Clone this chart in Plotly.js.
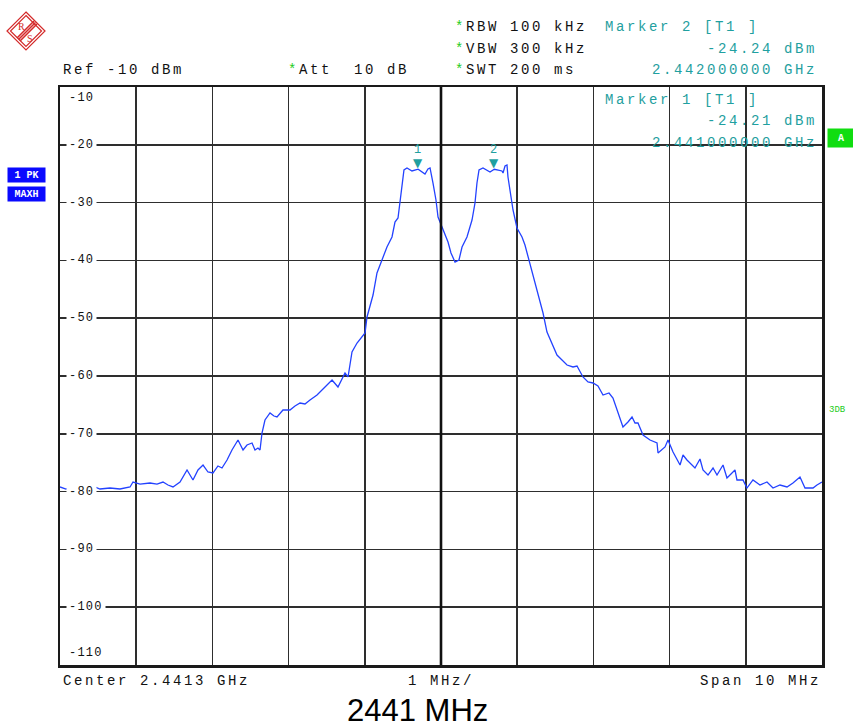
<!DOCTYPE html>
<html>
<head>
<meta charset="utf-8">
<script src="https://cdn.plot.ly/plotly-3.0.1.min.js"></script>
<style>
html,body{margin:0;padding:0;background:#fff;}
#chart{width:853px;height:727px;}
text.annotation-text[style*="font-size: 14px"]{letter-spacing:2.6px;}
text.annotation-text[style*="font-size: 12px"]{letter-spacing:1.2px;}
</style>
</head>
<body>
<div id="chart"></div>
<script>
// ---- data ----
const CENTER_MHZ = 2441.3;
const SPAN_MHZ = 10;
const REF_LEVEL = -10;
const FREQ = [
2436.300,2436.379,2436.471,2436.562,2436.694,2436.825,2436.956,2437.087,2437.219,2437.258,
2437.350,2437.481,2437.573,2437.652,2437.717,2437.783,2437.875,2437.967,2438.045,2438.111,
2438.177,2438.242,2438.308,2438.373,2438.426,2438.492,2438.557,2438.597,2438.636,2438.702,
2438.754,2438.820,2438.859,2438.898,2438.925,2438.951,2438.990,2439.056,2439.108,2439.148,
2439.226,2439.318,2439.384,2439.450,2439.515,2439.581,2439.673,2439.778,2439.870,2439.948,
2440.040,2440.080,2440.132,2440.198,2440.303,2440.329,2440.368,2440.408,2440.460,2440.526,
2440.591,2440.657,2440.696,2440.736,2440.762,2440.788,2440.814,2440.854,2440.919,2441.000,
2441.090,2441.129,2441.156,2441.195,2441.234,2441.261,2441.313,2441.366,2441.392,2441.431,
2441.484,2441.536,2441.576,2441.641,2441.707,2441.746,2441.772,2441.799,2441.851,2441.943,
2442.000,2442.100,2442.114,2442.140,2442.166,2442.179,2442.206,2442.245,2442.297,2442.363,
2442.402,2442.455,2442.507,2442.573,2442.639,2442.691,2442.757,2442.822,2442.888,2442.954,
2443.032,2443.085,2443.163,2443.229,2443.295,2443.360,2443.426,2443.505,2443.557,2443.623,
2443.688,2443.754,2443.807,2443.846,2443.885,2443.951,2444.043,2444.135,2444.148,2444.240,
2444.279,2444.345,2444.437,2444.476,2444.528,2444.633,2444.699,2444.738,2444.804,2444.870,
2444.922,2445.001,2445.053,2445.158,2445.184,2445.263,2445.315,2445.394,2445.486,2445.578,
2445.657,2445.749,2445.841,2445.919,2446.011,2446.077,2446.182,2446.234,2446.300
];
const LEVEL = [
-79.20,-79.55,-79.38,-79.03,-78.86,-79.55,-79.38,-79.55,-79.20,-78.34,
-78.69,-78.51,-78.69,-78.34,-78.86,-79.20,-78.34,-76.26,-77.99,-76.26,
-75.40,-76.61,-76.78,-75.57,-75.92,-74.53,-72.80,-71.94,-71.07,-72.80,
-71.94,-71.59,-72.80,-72.46,-72.80,-69.86,-67.61,-66.40,-66.92,-67.09,
-65.88,-65.88,-65.19,-64.67,-64.84,-64.15,-63.29,-61.90,-60.69,-61.90,
-59.48,-60.17,-55.85,-54.29,-52.56,-49.79,-47.72,-45.99,-42.18,-39.93,
-37.68,-35.95,-33.36,-32.66,-30.07,-27.30,-24.36,-24.01,-24.53,-24.21,
-25.05,-24.19,-24.01,-26.61,-29.55,-32.49,-34.22,-35.95,-36.82,-38.72,
-40.28,-39.93,-37.68,-35.95,-33.01,-30.07,-26.61,-24.36,-24.01,-24.71,
-24.24,-24.53,-24.88,-23.67,-23.50,-25.57,-27.82,-31.28,-34.39,-35.95,
-37.34,-39.93,-42.18,-45.64,-49.10,-52.39,-54.29,-56.37,-57.23,-58.10,
-58.44,-58.27,-60.17,-61.04,-61.21,-61.73,-63.29,-62.94,-63.81,-66.40,
-68.82,-67.96,-67.09,-68.13,-68.13,-70.21,-71.07,-71.59,-73.32,-72.28,
-71.07,-73.15,-75.40,-73.67,-74.53,-75.92,-74.36,-76.26,-77.13,-75.92,
-77.13,-75.40,-77.65,-76.26,-77.99,-77.99,-79.38,-77.99,-78.86,-78.34,
-79.38,-78.86,-79.20,-78.51,-77.47,-79.38,-79.38,-78.86,-78.34
];
const MARKER_LABEL = ['1','2'];
const MARKER_FREQ = [2441.0, 2442.0];
const MARKER_LEVEL = [-24.21, -24.24];
const YTICKS = [-10,-20,-30,-40,-50,-60,-70,-80,-90,-100,-110];
const YTICK_LABELS = ['-10','-20','-30','-40','-50','-60','-70','-80','-90','-100','-110'];
const RBW = '100 kHz', VBW = '300 kHz', SWT = '200 ms', ATT = '10 dB';
const TITLE = '2441 MHz';

// ---- layout helpers (pixel -> paper) ----
const L = 60, R = 822, T = 87, B = 665;
const X = p => (p - L) / (R - L);
const Y = p => (B - p) / (B - T);
const MONO = 'Liberation Mono, Courier New, monospace';
const TEAL = '#1fa0a0';
const GREEN = '#22cc22';
const NB = s => s.replace(/ /g, '\u00A0');

function txt(x, y, text, anchor, color, size, extra) {
  return Object.assign({
    xref: 'paper', yref: 'paper', x: X(x), y: Y(y), text: text,
    showarrow: false, xanchor: anchor, yanchor: 'middle', borderpad: 0,
    font: {family: MONO, size: size || 14, color: color || '#111'}
  }, extra || {});
}
const star = '<span style="color:' + GREEN + '">*</span>';
const fmtGHz = f => (f / 1000).toFixed(9) + ' GHz';

const annotations = [
  txt(62, 70, NB('Ref ' + REF_LEVEL + ' dBm'), 'left'),
  txt(287, 70, star + NB('Att  ' + ATT), 'left'),
  txt(454, 27, star + NB('RBW ' + RBW), 'left'),
  txt(454, 49, star + NB('VBW ' + VBW), 'left'),
  txt(454, 70, star + NB('SWT ' + SWT), 'left'),
  txt(604, 27, NB('Marker ' + MARKER_LABEL[1] + ' [T1 ]'), 'left', TEAL),
  txt(818, 49, NB(MARKER_LEVEL[1].toFixed(2) + ' dBm'), 'right', TEAL),
  txt(818, 70, NB(fmtGHz(MARKER_FREQ[1])), 'right', TEAL),
  txt(604, 100, NB('Marker ' + MARKER_LABEL[0] + ' [T1 ]'), 'left', TEAL),
  txt(818, 121, NB(MARKER_LEVEL[0].toFixed(2) + ' dBm'), 'right', TEAL),
  txt(818, 143, NB(fmtGHz(MARKER_FREQ[0])), 'right', TEAL),
  txt(62, 681, NB('Center ' + (CENTER_MHZ / 1000).toFixed(4) + ' GHz'), 'left'),
  txt(441, 681, NB(SPAN_MHZ / 10 + ' MHz/'), 'center'),
  txt(822, 681, NB('Span ' + SPAN_MHZ + ' MHz'), 'right'),
  txt(417, 710, TITLE, 'center', '#000', 31, {font: {family: 'Liberation Sans, Arial, sans-serif', size: 31, color: '#000'}}),
  txt(7, 175, NB('1 PK'), 'left', '#fff', 10, {bgcolor: '#0a0aff', width: 37, height: 14, font: {family: MONO, size: 10, color: '#fff', weight: 'bold'}}),
  txt(7, 194, 'MAXH', 'left', '#fff', 10, {bgcolor: '#0a0aff', width: 37, height: 14, font: {family: MONO, size: 10, color: '#fff', weight: 'bold'}}),
  txt(827, 138, 'A', 'left', '#fff', 10, {bgcolor: '#10dd10', width: 26, height: 18, font: {family: MONO, size: 10, color: '#fff', weight: 'bold'}}),
  txt(828, 410, '3DB', 'left', GREEN, 9)
];

// y-axis labels drawn inside the grid, breaking the grid line
YTICKS.forEach((v, i) => {
  let ys = 0;
  if (i === 0) ys = -11;
  if (i === YTICKS.length - 1) ys = 12;
  annotations.push({
    xref: 'paper', yref: 'y', x: X(66), y: v, yshift: ys, text: YTICK_LABELS[i],
    showarrow: false, xanchor: 'left', yanchor: 'middle', borderpad: 2,
    bgcolor: ys === 0 ? '#fff' : 'rgba(0,0,0,0)',
    font: {family: MONO, size: 12, color: '#111'}
  });
});

// marker symbols
MARKER_FREQ.forEach((f, i) => {
  annotations.push({
    xref: 'x', yref: 'y', x: f, y: MARKER_LEVEL[i], yshift: 6, text: '\u25BC',
    showarrow: false, xanchor: 'center', yanchor: 'middle',
    font: {family: 'DejaVu Sans', size: 12, color: TEAL}
  });
  annotations.push({
    xref: 'x', yref: 'y', x: f, y: MARKER_LEVEL[i], yshift: 19, text: MARKER_LABEL[i],
    showarrow: false, xanchor: 'center', yanchor: 'middle',
    font: {family: MONO, size: 12, color: TEAL}
  });
});

// thick centre line
const shapes = [{
  type: 'line', layer: 'above', xref: 'x', yref: 'paper',
  x0: CENTER_MHZ, x1: CENTER_MHZ, y0: 0, y1: 1, line: {color: '#111', width: 2.6}
}];

const logo = "data:image/svg+xml;utf8," + encodeURIComponent(
  "<svg xmlns='http://www.w3.org/2000/svg' width='40' height='40' viewBox='0 0 40 40'>" +
  "<g fill='none' stroke='#d42a2a' stroke-width='1.2'>" +
  "<polygon points='20,1 39,20 20,39 1,20'/>" +
  "<polygon points='20,4.5 35.5,20 20,35.5 4.5,20'/>" +
  "<line x1='11' y1='27' x2='28' y2='10' stroke-width='1.6'/>" +
  "<line x1='12.5' y1='28.5' x2='29.5' y2='11.5' stroke-width='1.6'/>" +
  "<line x1='14' y1='30' x2='31' y2='13' stroke-width='1.6'/>" +
  "</g>" +
  "<text x='12' y='19' font-family='Liberation Serif' font-size='10' fill='#d42a2a'>R</text>" +
  "<text x='21' y='31' font-family='Liberation Serif' font-size='10' fill='#d42a2a'>S</text>" +
  "</svg>");

const data = [{
  x: FREQ, y: LEVEL, type: 'scatter', mode: 'lines',
  line: {color: '#2342ff', width: 1.3}, hoverinfo: 'skip'
}];

const layout = {
  width: 853, height: 727,
  margin: {l: L, r: 853 - R, t: T, b: 727 - B, pad: 0},
  paper_bgcolor: '#fff', plot_bgcolor: '#fff',
  showlegend: false,
  xaxis: {
    range: [CENTER_MHZ - SPAN_MHZ / 2, CENTER_MHZ + SPAN_MHZ / 2],
    tick0: CENTER_MHZ - SPAN_MHZ / 2, dtick: SPAN_MHZ / 10,
    showticklabels: false, ticks: '',
    showgrid: true, gridcolor: '#2e2e2e', gridwidth: 1.6,
    zeroline: false, showline: true, mirror: true, linecolor: '#1a1a1a', linewidth: 2.5
  },
  yaxis: {
    range: [-110, -10], tick0: -110, dtick: 10,
    showticklabels: false, ticks: '',
    showgrid: true, gridcolor: '#2e2e2e', gridwidth: 1.6,
    zeroline: false, showline: true, mirror: true, linecolor: '#1a1a1a', linewidth: 2.5
  },
  annotations: annotations,
  shapes: shapes,
  images: [{
    source: logo, xref: 'paper', yref: 'paper', x: X(6), y: Y(11),
    sizex: 40 / (R - L), sizey: 40 / (B - T), xanchor: 'left', yanchor: 'top',
    sizing: 'stretch', layer: 'above'
  }]
};

Plotly.newPlot('chart', data, layout, {staticPlot: true, displayModeBar: false});
</script>
</body>
</html>
